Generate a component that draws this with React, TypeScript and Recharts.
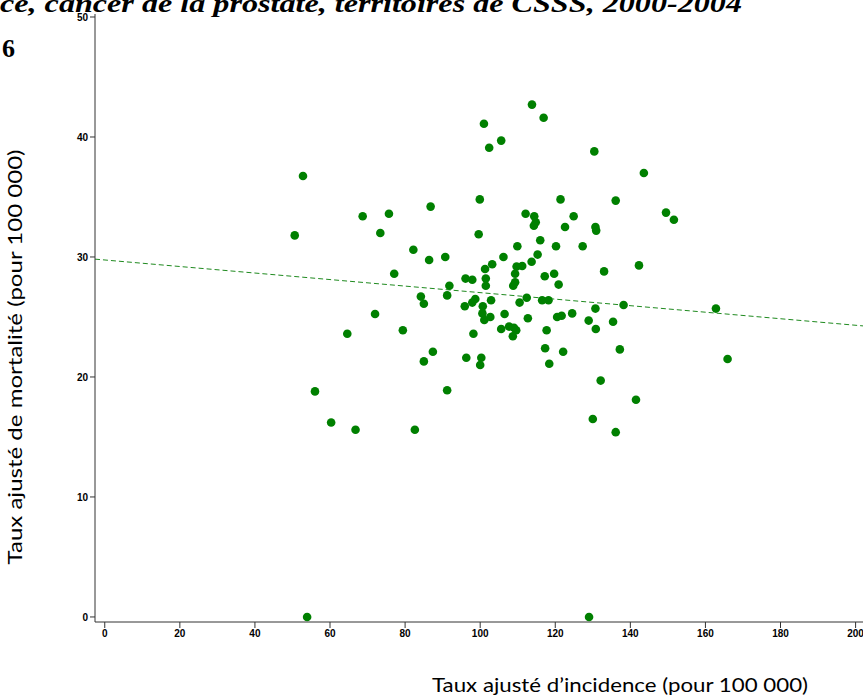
import React from 'react';
import {
  ScatterChart,
  Scatter,
  XAxis,
  YAxis,
  ReferenceLine,
} from 'recharts';

// Taux ajusté d'incidence (x) et de mortalité (y), par territoire de CSSS
const incidence = [
  50.6, 52.8, 53.9, 56.0, 60.3, 64.6, 66.8, 68.7, 72.0, 73.4,
  75.7, 77.1, 79.4, 82.2, 82.6, 84.2, 85.0, 85.0, 86.4, 86.8,
  87.4, 90.7, 91.2, 91.2, 91.8, 95.9, 96.1, 97.9, 97.9, 98.7,
  98.2, 96.3, 99.6, 99.9, 101.0, 102.4, 105.6, 100.3, 100.0, 100.7,
  100.6, 101.1, 102.7, 102.9, 101.3, 103.2, 101.5, 101.5, 106.2, 105.6,
  106.5, 107.7, 109.0, 109.6, 108.7, 109.3, 108.8, 109.3, 109.7, 111.2,
  109.9, 110.5, 112.4, 112.7, 112.1, 113.7, 113.8, 114.4, 114.8, 114.3,
  115.3, 116.0, 116.9, 117.2, 116.5, 118.2, 117.7, 117.3, 118.4, 119.7,
  120.2, 120.9, 120.5, 121.7, 121.4, 122.1, 122.6, 124.5, 124.9, 127.3,
  128.9, 129.0, 130.0, 130.4, 130.7, 130.9, 130.7, 130.8, 132.1, 133.0,
  135.4, 136.1, 136.1, 137.2, 138.2, 141.5, 142.3, 143.6, 149.5, 151.6,
  162.8, 165.9,
];

const mortalite = [
  31.8, 36.75, 0.0, 18.8, 16.2, 23.6, 15.6, 33.4, 25.25, 32.0,
  33.6, 28.6, 23.9, 30.6, 15.6, 26.7, 26.1, 21.3, 29.75, 34.2,
  22.1, 30.0, 26.8, 18.9, 27.6, 25.9, 28.2, 28.1, 26.2, 26.5,
  23.6, 21.6, 31.9, 34.8, 41.1, 39.1, 39.7, 21.6, 21.0, 25.9,
  25.3, 24.75, 25.0, 26.4, 29.0, 29.4, 28.2, 27.6, 30.0, 24.0,
  25.25, 24.2, 24.1, 23.9, 23.4, 27.9, 27.6, 28.6, 29.2, 29.25,
  30.9, 26.2, 26.6, 24.9, 33.6, 29.6, 42.7, 33.4, 32.9, 32.6,
  30.2, 31.4, 41.6, 28.4, 26.4, 26.4, 23.9, 22.4, 21.1, 28.6,
  30.9, 27.7, 25.0, 25.1, 34.8, 22.1, 32.5, 25.3, 33.4, 30.9,
  24.7, 0.0, 16.5, 38.8, 32.5, 32.2, 25.7, 24.0, 19.7, 28.8,
  24.6, 34.7, 15.4, 22.3, 26.0, 18.1, 29.3, 37.0, 33.7, 33.1,
  25.7, 21.5,
];

const xTicks = [0, 20, 40, 60, 80, 100, 120, 140, 160, 180, 200];
const yTicks = [0, 10, 20, 30, 40, 50];

// droite de régression
const fitIntercept = 29.75;
const fitSlope = -0.0272;

const xDomain: [number, number] = [-2.6, 206.5];
const yDomain: [number, number] = [-0.42, 50.25];

const points = incidence.map((x, i) => ({ x, y: mortalite[i] }));

const fitSegment = [
  { x: xDomain[0], y: fitIntercept + fitSlope * xDomain[0] },
  { x: xDomain[1], y: fitIntercept + fitSlope * xDomain[1] },
];

const tickStyle = {
  fontSize: 10,
  fontWeight: 'bold' as const,
  fill: '#000',
  fontFamily: 'Liberation Sans, Arial, sans-serif',
};

const Dot = (props: any) => (
  <circle cx={props.cx} cy={props.cy} r={4.3} fill="#008000" />
);

const App: React.FC = () => {
  return (
    <div
      style={{
        position: 'absolute',
        left: 0,
        top: 0,
        width: 863,
        height: 696,
        overflow: 'hidden',
        background: '#fff',
      }}
    >
      <ScatterChart
        width={880}
        height={696}
        margin={{ top: 14, right: 0, bottom: 0, left: 0 }}
      >
        <XAxis
          type="number"
          dataKey="x"
          domain={xDomain}
          ticks={xTicks}
          allowDataOverflow
          height={74}
          stroke="#333"
          tickSize={6}
          tick={tickStyle}
        />
        <YAxis
          type="number"
          dataKey="y"
          domain={yDomain}
          ticks={yTicks}
          allowDataOverflow
          width={95}
          stroke="#333"
          tickSize={5}
          tick={tickStyle}
        />
        <ReferenceLine
          segment={fitSegment}
          stroke="#1f8a1f"
          strokeWidth={1}
          strokeDasharray="5 3"
          ifOverflow="hidden"
        />
        <Scatter data={points} shape={<Dot />} isAnimationActive={false} />
      </ScatterChart>

      <svg
        width={863}
        height={696}
        style={{ position: 'absolute', left: 0, top: 0, pointerEvents: 'none' }}
      >
        <text
          x={0}
          y={12}
          fontFamily="Liberation Serif, Times New Roman, serif"
          fontSize={26}
          fontWeight="bold"
          fontStyle="italic"
          textLength={742}
          lengthAdjust="spacingAndGlyphs"
        >
          ce, cancer de la prostate, territoires de CSSS,  2000-2004
        </text>
        <text
          x={2}
          y={57}
          fontFamily="Liberation Serif, Times New Roman, serif"
          fontSize={26}
          fontWeight="bold"
        >
          6
        </text>
        <text
          transform="translate(22, 357) rotate(-90)"
          textAnchor="middle"
          fontFamily="Lato, Open Sans, sans-serif"
          fontSize={19}
          textLength={415}
          lengthAdjust="spacingAndGlyphs"
        >
          Taux ajusté de mortalité (pour 100 000)
        </text>
        <text
          x={432}
          y={692}
          fontFamily="Lato, Open Sans, sans-serif"
          fontSize={19}
          textLength={376}
          lengthAdjust="spacingAndGlyphs"
        >
          Taux ajusté d’incidence (pour 100 000)
        </text>
      </svg>
    </div>
  );
};

export default App;
